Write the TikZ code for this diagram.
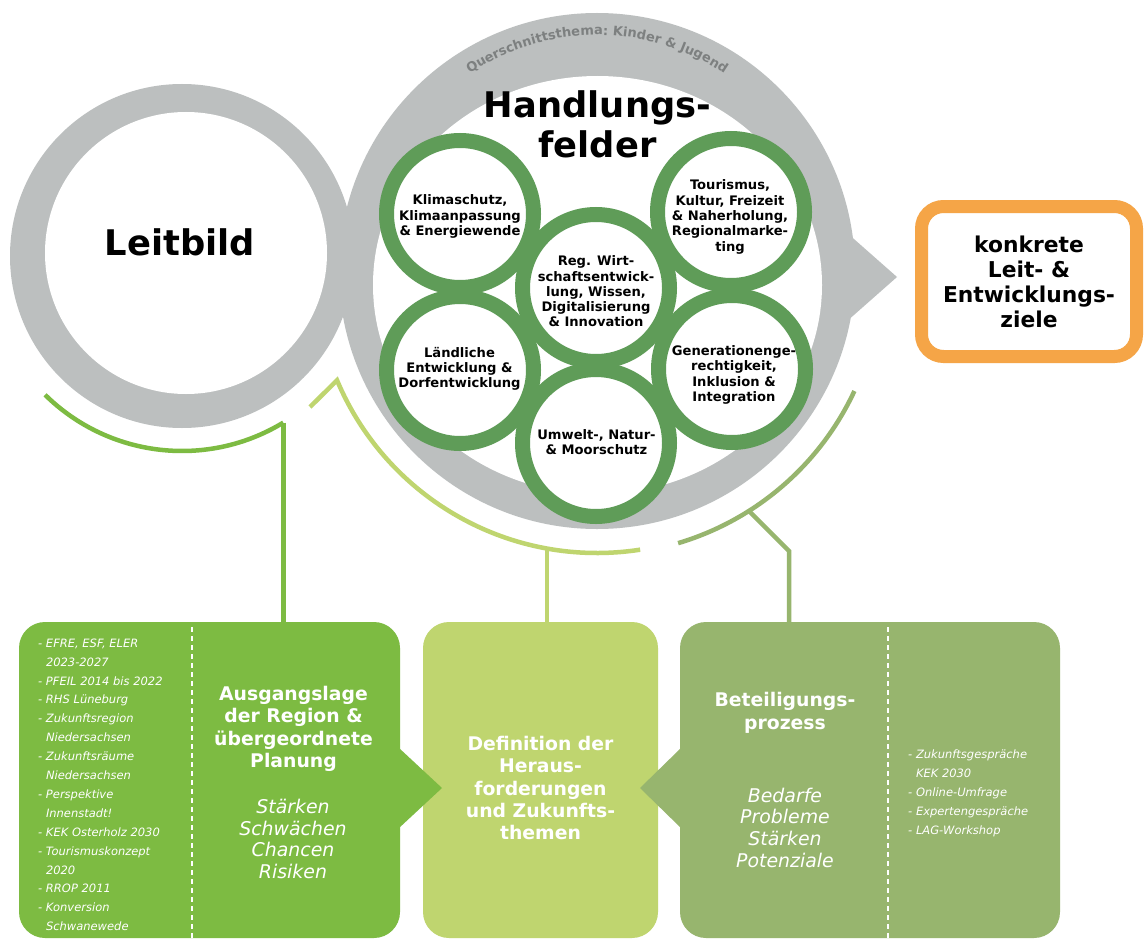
\documentclass[tikz,border=0pt]{standalone}
\usepackage{fontspec}
\setmainfont{DejaVu Sans}[BoldFont={DejaVu Sans Bold},ItalicFont={DejaVu Sans Oblique},BoldItalicFont={DejaVu Sans Bold Oblique}]
\usetikzlibrary{decorations.text}
\definecolor{ringgray}{HTML}{BCBFBF}
\definecolor{textgray}{HTML}{7D8080}
\definecolor{hgreen}{HTML}{5F9C58}
\definecolor{bgreen}{HTML}{7DBB42}
\definecolor{lgreen}{HTML}{BFD56F}
\definecolor{ogreen}{HTML}{97B56E}
\definecolor{lorange}{HTML}{F5A547}
\begin{document}
\begin{tikzpicture}[x=1pt,y=-1pt,
  big/.style={font=\bfseries\fontsize{35.3}{40}\selectfont, align=center, inner sep=0pt},
  feld/.style={circle, draw=hgreen, line width=15pt, fill=white, minimum size=147pt, inner sep=0pt},
  feldtxt/.style={font=\bfseries\fontsize{13.1}{15.3}\selectfont, align=center, inner sep=0pt},
  boxtitle/.style={font=\bfseries\fontsize{18.8}{22.3}\selectfont, align=center, inner sep=0pt, text=white},
  boxital/.style={font=\itshape\fontsize{18.9}{21.8}\selectfont, align=center, inner sep=0pt, text=white},
  listtxt/.style={font=\itshape\fontsize{11.5}{18.9}\selectfont, align=left, inner sep=0pt, text=white, anchor=north west},
  conn/.style={line width=4.5pt},
  box/.style={rounded corners=26pt, minimum height=316pt, inner sep=0pt},
  sep/.style={white, line width=1.6pt, dash pattern=on 5pt off 4pt}
]
\useasboundingbox (0,0) rectangle (1145,939);
\fill[white] (0,0) rectangle (1145,939);

% Leitbild ring
\fill[ringgray] (182,256) circle[radius=172pt];
\fill[white] (186,253) circle[radius=141pt];
% Handlungsfelder ring with arrow
\fill[ringgray] (597,271) circle[radius=258pt];
\fill[ringgray] (846,232) -- (897,277) -- (846,322) -- cycle;
\fill[white] (597.5,285) ellipse[x radius=224.5pt, y radius=209pt];

\path[decorate, decoration={text along path, text align=center,
  text={|\bfseries\fontsize{13}{13}\selectfont\color{textgray}|Querschnittsthema: Kinder {\&} Jugend}}]
  (597,263) ++(130:228pt) arc[start angle=130, end angle=50, radius=228pt];

\node[big] (leitbild) at (180,242) {Leitbild};
\node[big] (handl) at (597.5,124) {Handlungs-\\felder};

% Handlungsfelder circles
\node[feld] (f1) at (460,214) {};
\node[feld] (f2) at (731,212) {};
\node[feld] (f3) at (596,288) {};
\node[feld] (f4) at (460,370) {};
\node[feld] (f5) at (732,369) {};
\node[feld] (f6) at (596,443) {};

\node[feldtxt] (t1) at (460,216.5) {Klimaschutz,\\Klimaanpassung\\\& Energiewende};
\node[feldtxt] (t2) at (730,217) {Tourismus,\\Kultur, Freizeit\\\& Naherholung,\\Regionalmarke-\\ting};
\node[feldtxt] (t3) at (596,291.5) {Reg. Wirt-\\schaftsentwick-\\lung, Wissen,\\Digitalisierung\\\& Innovation};
\node[feldtxt] (t4) at (459.5,369) {Ländliche\\Entwicklung \&\\Dorfentwicklung};
\node[feldtxt] (t5) at (734,375) {Generationenge-\\rechtigkeit,\\Inklusion \&\\Integration};
\node[feldtxt] (t6) at (596.5,442) {Umwelt-, Natur-\\\& Moorschutz};

% target box
\node[draw=lorange, line width=13pt, rounded corners=22pt, minimum width=215pt, minimum height=150pt,
  inner sep=0pt, align=center, font=\bfseries\fontsize{21.8}{25}\selectfont] (ziel) at (1029,281.5)
  {konkrete\\Leit- \&\\Entwicklungs-\\ziele};

% bottom boxes
\node[box, fill=bgreen, minimum width=381pt] (lbox) at (209.5,780) {};
\node[box, fill=lgreen, minimum width=235pt] (mbox) at (540.5,780) {};
\node[box, fill=ogreen, minimum width=380pt] (rbox) at (870,780) {};
\fill[bgreen] (399,748) -- (442,788) -- (399,828) -- cycle;
\fill[ogreen] (681,748) -- (640,788) -- (681,828) -- cycle;
\draw[sep] (192,627) -- (192,939);
\draw[sep] (888,627) -- (888,939);

% connectors
\draw[conn, bgreen] (182,256) ++(225.4:195pt) arc[start angle=225.4, end angle=301.3, radius=195pt] coordinate (bJ);
\draw[conn, bgreen] (bJ) -- (bJ |- lbox.north);

\coordinate (mS) at (310,407);
\path (597,271) ++(202.8:282pt) coordinate (mA);
\draw[conn, lgreen, line join=miter] (mS) -- (mA) arc[start angle=202.8, end angle=278.8, radius=282pt];
\coordinate (mJ) at (547,548.5);
\draw[conn, lgreen] (mJ) -- (mJ |- mbox.north);

\path (597,271) ++(286.6:284pt) coordinate (oA);
\draw[conn, ogreen] (oA) arc[start angle=286.6, end angle=335, radius=284pt];
\coordinate (oJ) at (749,511);
\coordinate (oK) at (789,551);
\draw[conn, ogreen, line join=miter] (oJ) -- (oK) -- (oK |- rbox.north);

% box texts
\node[listtxt] (llist) at (38,638.5) {- EFRE, ESF, ELER\\\hphantom{- }2023-2027\\- PFEIL 2014 bis 2022\\- RHS Lüneburg\\- Zukunftsregion\\\hphantom{- }Niedersachsen\\- Zukunftsräume\\\hphantom{- }Niedersachsen\\- Perspektive\\\hphantom{- }Innenstadt!\\- KEK Osterholz 2030\\- Tourismuskonzept\\\hphantom{- }2020\\- RROP 2011\\- Konversion\\\hphantom{- }Schwanewede};
\node[boxtitle] (ltitle) at (293.5,728.8) {Ausgangslage\\der Region \&\\übergeordnete\\Planung};
\node[boxital] (lital) at (293,839) {Stärken\\Schwächen\\Chancen\\Risiken};

\node[boxtitle] (mtitle) at (540.5,788) {Definition der\\Heraus-\\forderungen\\und Zukunfts-\\themen};

\node[boxtitle] (rtitle) at (785,712.8) {Beteiligungs-\\prozess};
\node[boxital] (rital) at (785,827.7) {Bedarfe\\Probleme\\Stärken\\Potenziale};
\node[listtxt] (rlist) at (908,749.5) {- Zukunftsgespräche\\\hphantom{- }KEK 2030\\- Online-Umfrage\\- Expertengespräche\\- LAG-Workshop};
\end{tikzpicture}
\end{document}
